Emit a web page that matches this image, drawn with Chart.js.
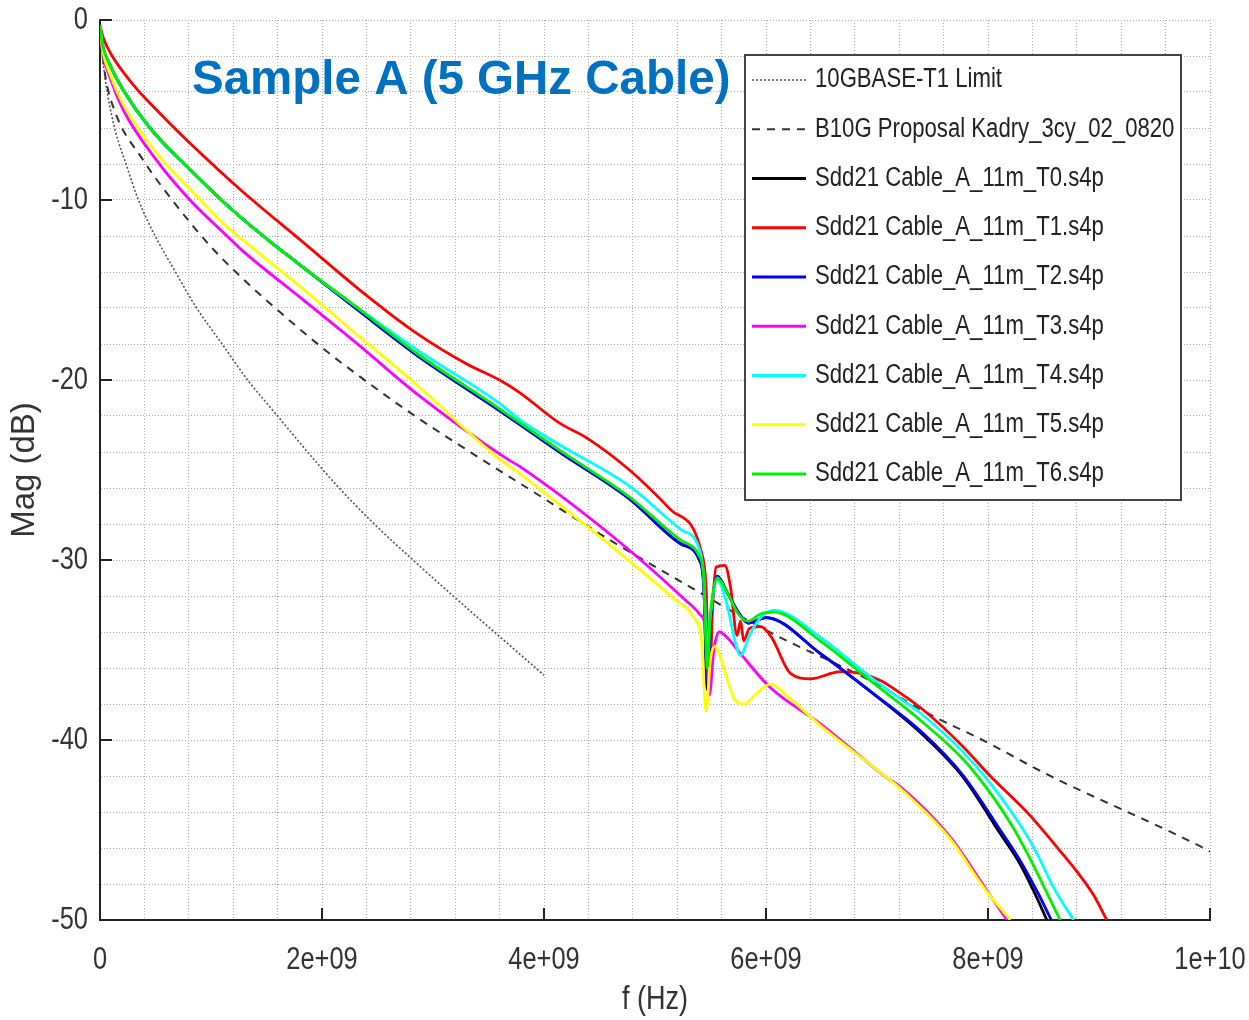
<!DOCTYPE html>
<html>
<head>
<meta charset="utf-8">
<title>Sample A (5 GHz Cable)</title>
<script src="https://cdn.jsdelivr.net/npm/chart.js@4.4.1/dist/chart.umd.min.js"></script>
<style>
    html, body { margin: 0; padding: 0; background: #fff; }
    #wrap { position: relative; width: 1249px; height: 1020px; }
</style>
</head>
<body>
<div id="wrap"><canvas id="sddChart"></canvas></div>
<script>
// All frequencies in GHz, magnitudes in dB
const limitFreq = [0.005, 0.045, 0.07, 0.14, 0.24, 0.34, 0.48, 0.68, 0.86, 1.10, 1.33, 1.6, 1.87, 2.14, 2.47, 2.82, 3.2, 3.59, 4.0];
const limitMag  = [-1.0, -3.2, -4.2, -6.2, -8.1, -9.9, -11.8, -14.0, -15.9, -18.0, -20.0, -22.0, -24.0, -25.9, -28.0, -30.0, -32.1, -34.2, -36.4];

const b10gFreq = [0.01, 0.045, 0.135, 0.38, 0.65, 1.0, 1.24, 1.56, 2.0, 2.23, 2.79, 3.36, 3.85, 4.57, 5.4, 6.0, 6.97, 7.45, 7.95, 8.53, 9.91, 10.0];
const b10gMag  = [-1.2, -3.0, -5.1, -7.7, -10.0, -12.6, -14.1, -15.9, -18.2, -19.3, -21.8, -24.1, -26.0, -28.8, -31.8, -33.9, -36.8, -38.5, -40.0, -41.9, -45.9, -46.2];

const t0Freq = [0, 0.02, 0.09, 0.21, 0.45, 0.81, 1.2, 1.51, 1.8, 2.3, 2.85, 3.6, 4.14, 4.77, 5.23, 5.4, 5.44, 5.47, 5.5, 5.56, 5.65, 5.75, 5.84, 6.0, 6.49, 6.94, 7.41, 7.78, 8.11, 8.29, 8.42, 8.53];
const t0Mag  = [-0.3, -1.3, -2.5, -3.9, -6.0, -8.3, -10.6, -12.2, -13.6, -16.0, -18.6, -21.7, -24.0, -26.6, -29.1, -30.0, -31.5, -37.2, -33.5, -30.9, -31.8, -32.9, -33.5, -33.2, -35.2, -37.3, -39.7, -42.1, -45.2, -46.9, -48.5, -50.0];

const t1Freq = [0, 0.03, 0.1, 0.3, 0.51, 0.87, 1.26, 1.82, 2.4, 2.85, 3.3, 3.6, 3.78, 4.14, 4.38, 4.77, 5.14, 5.42, 5.46, 5.49, 5.52, 5.55, 5.63, 5.68, 5.74, 5.77, 5.8, 5.85, 5.95, 6.05, 6.22, 6.4, 6.67, 6.85, 7.03, 7.21, 7.45, 7.78, 8.02, 8.38, 8.6, 8.8, 8.95, 9.07];
const t1Mag  = [-0.3, -1.0, -1.9, -3.6, -5.0, -7.2, -9.4, -12.3, -15.3, -17.4, -19.1, -20.0, -20.7, -22.4, -23.2, -25.0, -27.2, -29.6, -31.5, -37.0, -32.5, -30.4, -30.3, -31.5, -34.2, -33.4, -34.5, -33.8, -33.7, -34.3, -36.3, -36.6, -36.2, -36.3, -36.7, -37.4, -38.5, -40.4, -42.0, -44.2, -45.8, -47.3, -48.6, -50.0];

const t2Freq = [0, 0.02, 0.09, 0.21, 0.45, 0.81, 1.2, 1.51, 1.8, 2.3, 2.85, 3.6, 4.14, 4.77, 5.23, 5.4, 5.44, 5.47, 5.5, 5.56, 5.65, 5.75, 5.84, 6.0, 6.49, 6.94, 7.41, 7.78, 8.11, 8.29, 8.45, 8.57];
const t2Mag  = [-0.3, -1.3, -2.5, -3.9, -6.0, -8.3, -10.6, -12.2, -13.6, -16.0, -18.6, -21.7, -24.0, -26.6, -29.1, -30.0, -31.5, -36.8, -33.5, -30.9, -31.8, -32.9, -33.5, -33.2, -35.2, -37.3, -39.6, -42.0, -45.0, -46.7, -48.5, -50.0];

const t3Freq = [0, 0.02, 0.09, 0.21, 0.51, 0.81, 1.11, 1.28, 1.8, 2.3, 2.88, 3.67, 3.78, 4.68, 5.25, 5.4, 5.46, 5.49, 5.53, 5.58, 5.65, 5.77, 6.04, 6.49, 7.09, 7.21, 7.66, 7.95, 8.17];
const t3Mag  = [-0.3, -1.6, -3.2, -5.0, -7.8, -10.0, -11.8, -12.8, -15.4, -17.9, -20.9, -24.4, -24.8, -29.0, -32.1, -33.0, -34.0, -37.5, -35.0, -34.0, -34.3, -35.2, -37.1, -39.1, -42.1, -42.6, -45.4, -48.0, -50.0];

const t4Freq = [0, 0.02, 0.09, 0.21, 0.45, 0.81, 1.2, 1.51, 1.8, 2.3, 2.85, 3.6, 3.78, 4.14, 4.77, 5.23, 5.4, 5.44, 5.47, 5.5, 5.56, 5.65, 5.72, 5.77, 5.85, 5.95, 6.07, 6.49, 6.94, 7.21, 7.39, 7.78, 8.02, 8.35, 8.44, 8.6, 8.77];
const t4Mag  = [-0.3, -1.3, -2.5, -3.9, -6.0, -8.3, -10.6, -12.2, -13.6, -15.9, -18.3, -21.3, -22.2, -23.6, -25.9, -28.3, -29.4, -31.0, -35.0, -33.0, -31.1, -32.5, -34.5, -35.3, -34.2, -33.2, -32.8, -34.3, -36.5, -37.7, -38.5, -40.7, -42.4, -45.3, -46.3, -48.3, -50.0];

const t5Freq = [0, 0.02, 0.09, 0.21, 0.51, 0.81, 1.11, 1.32, 1.8, 2.3, 2.82, 3.6, 3.78, 4.68, 5.16, 5.35, 5.42, 5.46, 5.5, 5.54, 5.62, 5.72, 5.8, 5.9, 6.04, 6.2, 6.49, 7.03, 7.21, 7.66, 7.95, 8.2];
const t5Mag  = [-0.3, -1.5, -3.0, -4.7, -7.4, -9.4, -11.3, -12.4, -14.8, -17.4, -20.1, -24.4, -25.2, -29.6, -32.1, -33.2, -34.5, -38.4, -35.5, -34.8, -36.0, -37.8, -38.0, -37.5, -36.9, -37.6, -39.2, -41.8, -42.7, -45.5, -48.1, -50.0];

const t6Freq = [0, 0.02, 0.09, 0.21, 0.45, 0.81, 1.2, 1.51, 1.8, 2.3, 2.85, 3.6, 4.14, 4.77, 5.23, 5.4, 5.44, 5.47, 5.5, 5.56, 5.65, 5.75, 5.84, 5.95, 6.07, 6.49, 6.94, 7.21, 7.39, 7.78, 8.05, 8.23, 8.38, 8.5, 8.65];
const t6Mag  = [-0.3, -1.3, -2.5, -3.9, -6.0, -8.3, -10.6, -12.2, -13.6, -15.9, -18.5, -21.6, -23.9, -26.5, -28.9, -29.8, -31.0, -36.0, -33.0, -31.0, -31.8, -33.0, -33.4, -33.0, -32.9, -34.5, -36.7, -38.0, -38.9, -41.1, -43.2, -44.9, -46.6, -48.1, -50.0];

const seriesLabels = [
    '10GBASE-T1 Limit',
    'B10G Proposal Kadry_3cy_02_0820',
    'Sdd21 Cable_A_11m_T0.s4p',
    'Sdd21 Cable_A_11m_T1.s4p',
    'Sdd21 Cable_A_11m_T2.s4p',
    'Sdd21 Cable_A_11m_T3.s4p',
    'Sdd21 Cable_A_11m_T4.s4p',
    'Sdd21 Cable_A_11m_T5.s4p',
    'Sdd21 Cable_A_11m_T6.s4p'
];
const seriesFreqs = [limitFreq, b10gFreq, t0Freq, t1Freq, t2Freq, t3Freq, t4Freq, t5Freq, t6Freq];
const seriesMags = [limitMag, b10gMag, t0Mag, t1Mag, t2Mag, t3Mag, t4Mag, t5Mag, t6Mag];

// styles
const seriesColors = ['#555555', '#333333', '#000000', '#ff0000', '#0000ff', '#ff00ff', '#00ffff', '#ffff00', '#00ee00'];
const seriesDash = [[2, 2], [8, 7], [], [], [], [], [], [], []];
const seriesWidth = [1.6, 2, 2.8, 2.8, 2.8, 2.8, 2.8, 2.8, 2.8];

const xTickValues = [0, 2e9, 4e9, 6e9, 8e9, 1e10];
const xTickLabels = ['0', '2e+09', '4e+09', '6e+09', '8e+09', '1e+10'];
const yTickValues = [-50, -40, -30, -20, -10, 0];
const yTickLabels = ['-50', '-40', '-30', '-20', '-10', '0'];

const chartTitle = 'Sample A (5 GHz Cable)';
const xAxisTitle = 'f (Hz)';
const yAxisTitle = 'Mag (dB)';
const sansFont = "'Liberation Sans', Arial, sans-serif";

function toPoints(freq, mag) {
    return freq.map((f, i) => ({ x: f * 1e9, y: mag[i] }));
}

// the original uses a condensed Helvetica; squeeze Liberation Sans to match
function drawNarrow(ctx, text, x, y, size, align) {
    ctx.save();
    ctx.font = size + 'px ' + sansFont;
    ctx.textAlign = align;
    ctx.textBaseline = 'middle';
    ctx.translate(x, y);
    ctx.scale(0.82, 1);
    ctx.fillText(text, 0, 0);
    ctx.restore();
}

const datasets = seriesLabels.map((label, i) => ({
    label: label,
    data: toPoints(seriesFreqs[i], seriesMags[i]),
    borderColor: seriesColors[i],
    borderWidth: seriesWidth[i],
    borderDash: seriesDash[i],
    pointRadius: 0,
    showLine: true,
    fill: false,
    cubicInterpolationMode: 'monotone',
    order: seriesLabels.length - i   // later traces on top, like the original plot
}));

// axis labels, title, boxed legend and inward tick marks
const overlayPlugin = {
    id: 'overlay',
    beforeDraw(chart) {
        const ctx = chart.ctx;
        ctx.save();
        ctx.fillStyle = '#ffffff';
        ctx.fillRect(0, 0, chart.width, chart.height);
        ctx.restore();
    },
    afterDraw(chart) {
        const ctx = chart.ctx;
        const area = chart.chartArea;
        const xs = chart.scales.x;
        const ys = chart.scales.y;
        ctx.save();

        // major ticks pointing into the plot
        ctx.strokeStyle = '#222';
        ctx.lineWidth = 2;
        ctx.beginPath();
        xTickValues.forEach(v => {
            const px = Math.round(xs.getPixelForValue(v));
            ctx.moveTo(px, area.bottom);
            ctx.lineTo(px, area.bottom - 12);
        });
        yTickValues.forEach(v => {
            const py = Math.round(ys.getPixelForValue(v));
            ctx.moveTo(area.left, py);
            ctx.lineTo(area.left + 12, py);
        });
        ctx.stroke();

        // tick labels
        ctx.fillStyle = '#333';
        xTickValues.forEach((v, i) => {
            drawNarrow(ctx, xTickLabels[i], xs.getPixelForValue(v), area.bottom + 40, 31, 'center');
        });
        yTickValues.forEach((v, i) => {
            drawNarrow(ctx, yTickLabels[i], area.left - 12, ys.getPixelForValue(v), 31, 'right');
        });

        // axis titles
        drawNarrow(ctx, xAxisTitle, (area.left + area.right) / 2, 1000, 33, 'center');
        ctx.save();
        ctx.translate(25, (area.top + area.bottom) / 2);
        ctx.rotate(-Math.PI / 2);
        ctx.font = '33px ' + sansFont;
        ctx.textAlign = 'center';
        ctx.textBaseline = 'middle';
        ctx.fillText(yAxisTitle, 0, 0);
        ctx.restore();

        // title
        ctx.font = 'bold 47.5px ' + sansFont;
        ctx.fillStyle = '#0070c0';
        ctx.textBaseline = 'alphabetic';
        ctx.textAlign = 'left';
        ctx.fillText(chartTitle, 192, 94);

        // legend box
        const bx = 745, by = 55, bw = 436, bh = 445;
        ctx.fillStyle = '#ffffff';
        ctx.fillRect(bx, by, bw, bh);
        ctx.strokeStyle = '#444';
        ctx.lineWidth = 2;
        ctx.strokeRect(bx, by, bw, bh);

        chart.data.datasets.forEach((ds, i) => {
            const y = 80 + i * 49.25;
            ctx.beginPath();
            ctx.strokeStyle = ds.borderColor;
            ctx.lineWidth = ds.borderWidth;
            ctx.setLineDash(ds.borderDash);
            ctx.moveTo(752, y);
            ctx.lineTo(806, y);
            ctx.stroke();
            ctx.setLineDash([]);
            ctx.fillStyle = '#222';
            drawNarrow(ctx, ds.label, 815, y, 27, 'left');
        });
        ctx.restore();
    }
};

const ctx = document.getElementById('sddChart').getContext('2d');
new Chart(ctx, {
    type: 'scatter',
    data: { datasets: datasets },
    options: {
        responsive: true,
        maintainAspectRatio: false,
        animation: false,
        layout: { padding: { top: 20, right: 39, left: 0, bottom: 0 } },
        plugins: {
            legend: { display: false },
            tooltip: { enabled: false },
            title: { display: false }
        },
        scales: {
            x: {
                type: 'linear',
                min: 0,
                max: 1e10,
                afterFit: scale => { scale.height = 100; },
                grid: { color: '#aaaaaa', lineWidth: 1, drawTicks: false },
                border: { display: true, color: '#222', width: 2, dash: [1, 2] },
                ticks: { display: false, stepSize: 4e8, maxTicksLimit: 100 }
            },
            y: {
                type: 'linear',
                min: -50,
                max: 0,
                afterFit: scale => { scale.width = 100; },
                grid: { color: '#aaaaaa', lineWidth: 1, drawTicks: false },
                border: { display: true, color: '#222', width: 2, dash: [1, 2] },
                ticks: { display: false, stepSize: 2, maxTicksLimit: 100 }
            }
        }
    },
    plugins: [overlayPlugin]
});
</script>
</body>
</html>
